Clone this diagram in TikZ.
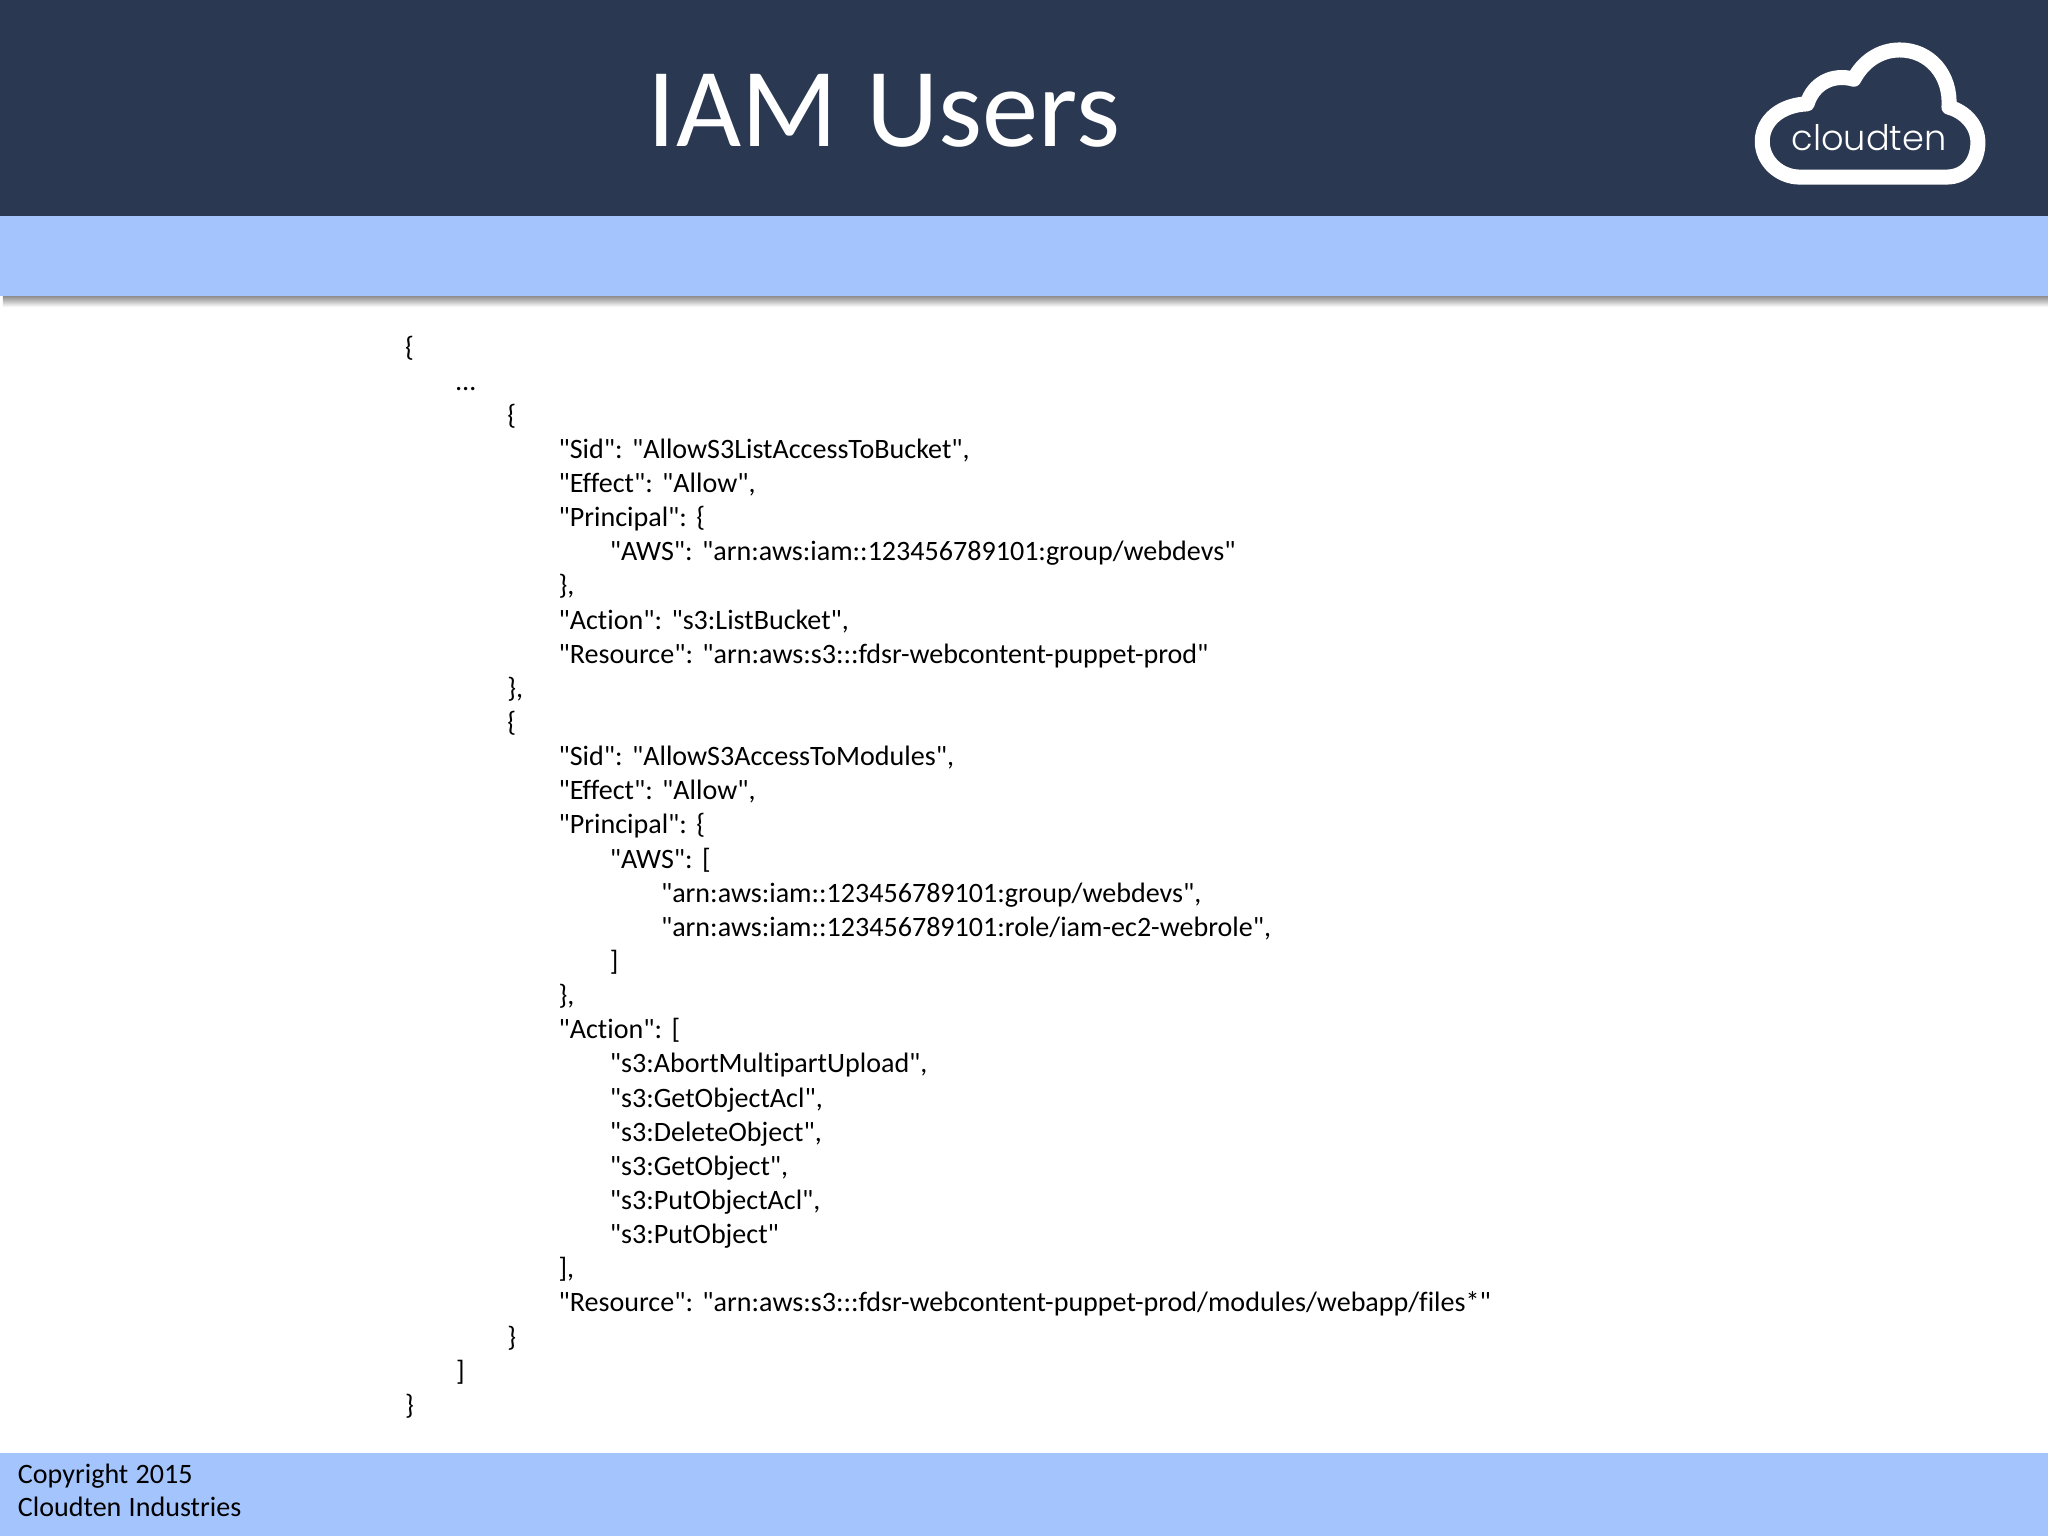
\documentclass[tikz,border=0pt]{standalone}
\usepackage{fontspec}
\newfontfamily\bodyfont[Ligatures=NoCommon,WordSpace=1.15]{Carlito}
\newfontfamily\logofont{Poppins Light}
\definecolor{headbar}{HTML}{2A3851}
\definecolor{lightbar}{HTML}{A3C4FD}
\definecolor{shadowgrey}{HTML}{8E8C8C}
\tikzset{
  codetext/.style={anchor=base west,inner sep=0pt,outer sep=0pt,text=black,font=\bodyfont\fontsize{7.98pt}{9.6pt}\selectfont},
  foottext/.style={codetext},
  titletext/.style={anchor=base west,inner sep=0pt,text=white,font=\bodyfont\fontsize{32pt}{36pt}\selectfont},
}
\newcommand{\codeln}[3]{\node[codetext] (line#2) at ({405+51.2*#1},{356+34.14*(#2-1)}) {#3};}
\begin{document}
\begin{tikzpicture}[x=0.01cm,y=-0.01cm]
\useasboundingbox (0,0) rectangle (2048,1536);
\fill[white] (0,0) rectangle (2048,1536);
\shade[top color=shadowgrey,bottom color=white] (3,296) rectangle (2048,307);
\fill[lightbar] (0,215) rectangle (2048,296);
\fill[headbar] (0,0) rectangle (2048,216);
\fill[lightbar] (0,1453) rectangle (2048,1536);
\node[titletext] (title) at (647,146) {IAM Users};
% logo
\begin{scope}[shift={(1700,20)},x=0.003333cm,y=-0.003333cm]
\draw[white,line width=4.27pt,line join=round,line cap=round]
  (300,472) -- (740,472)
  .. controls (800,472) and (835,425) .. (835,368)
  .. controls (835,315) and (795,275) .. (748,262)
  .. controls (755,165) and (690,90) .. (600,90)
  .. controls (540,90) and (490,125) .. (462,178)
  .. controls (400,160) and (340,190) .. (322,252)
  .. controls (245,255) and (187,300) .. (187,365)
  .. controls (187,425) and (240,472) .. (300,472) -- cycle;
\node[inner sep=0pt,text=white,font=\logofont\fontsize{10pt}{12pt}\selectfont] (logotext) at (508,352) {cloudten};
\end{scope}
% code
\codeln{0}{1}{\{}
\codeln{1}{2}{…}
\codeln{2}{3}{\{}
\codeln{3}{4}{"Sid": "AllowS3ListAccessToBucket",}
\codeln{3}{5}{"Effect": "Allow",}
\codeln{3}{6}{"Principal": \{}
\codeln{4}{7}{"AWS": "arn:aws:iam::123456789101:group/webdevs"}
\codeln{3}{8}{\},}
\codeln{3}{9}{"Action": "s3:ListBucket",}
\codeln{3}{10}{"Resource": "arn:aws:s3:::fdsr-webcontent-puppet-prod"}
\codeln{2}{11}{\},}
\codeln{2}{12}{\{}
\codeln{3}{13}{"Sid": "AllowS3AccessToModules",}
\codeln{3}{14}{"Effect": "Allow",}
\codeln{3}{15}{"Principal": \{}
\codeln{4}{16}{"AWS": [}
\codeln{5}{17}{"arn:aws:iam::123456789101:group/webdevs",}
\codeln{5}{18}{"arn:aws:iam::123456789101:role/iam-ec2-webrole",}
\codeln{4}{19}{]}
\codeln{3}{20}{\},}
\codeln{3}{21}{"Action": [}
\codeln{4}{22}{"s3:AbortMultipartUpload",}
\codeln{4}{23}{"s3:GetObjectAcl",}
\codeln{4}{24}{"s3:DeleteObject",}
\codeln{4}{25}{"s3:GetObject",}
\codeln{4}{26}{"s3:PutObjectAcl",}
\codeln{4}{27}{"s3:PutObject"}
\codeln{3}{28}{],}
\codeln{3}{29}{"Resource": "arn:aws:s3:::fdsr-webcontent-puppet-prod/modules/webapp/files*"}
\codeln{2}{30}{\}}
\codeln{1}{31}{]}
\codeln{0}{32}{\}}
\node[foottext] (copyright) at (18,1483) {Copyright 2015};
\node[foottext] (company) at (18,1516) {Cloudten Industries};
\end{tikzpicture}
\end{document}
